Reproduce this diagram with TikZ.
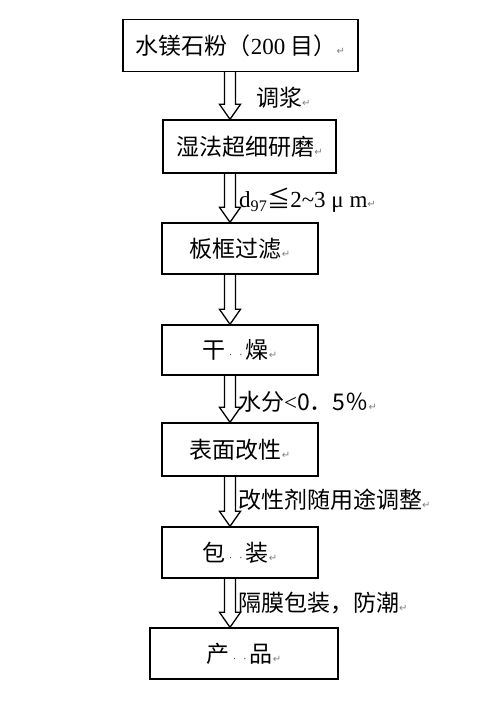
\documentclass[tikz,border=0pt]{standalone}
\usepackage{fontspec}
\setmainfont{Liberation Serif}
\newfontfamily\cjk{Noto Sans CJK SC}
\newfontfamily\markfont{DejaVu Sans}
\usetikzlibrary{calc}
% word's formatting marks, as the picture shows them
\newcommand{\pmark}{{\markfont\fontsize{10}{10}\selectfont\color{gray}↵}}
\newcommand{\smark}{{\markfont\fontsize{10}{10}\selectfont\color{darkgray}\hspace{3.5pt}·\hspace{3.5pt}}}
% hollow block arrow from one box down to the next
\newcommand{\downstep}[2]{%
  \draw[hollow] ($(#1.south -| shaft)+(-5.5,0)$) -- ($(#2.north -| shaft)+(-5.5,-15)$)
    -- ++(-5,0) -- (#2.north -| shaft) -- ($(#2.north -| shaft)+(10.5,-15)$)
    -- ++(-5,0) -- ($(#1.south -| shaft)+(5.5,0)$);}

\begin{document}
\begin{tikzpicture}[x=1pt,y=-1pt,
    box/.style={draw,line width=1.4pt,inner sep=0pt,font=\cjk\fontsize{23}{27}\selectfont},
    hollow/.style={line width=1.3pt,line join=miter},
    note/.style={anchor=west,inner sep=0pt,font=\cjk\fontsize{23}{27}\selectfont}]
  \useasboundingbox (0,0) rectangle (477,703);
  \coordinate (shaft) at (230,0);

  \node[box,minimum width=235pt,minimum height=52pt] (powder) at (240.5,45.5) {水镁石粉（{\rmfamily 200} 目）\pmark};
  \node[box,minimum width=173pt,minimum height=53pt] (grind) at (249.5,146.5) {湿法超细研磨\pmark};
  \node[box,minimum width=156pt,minimum height=51pt] (filter) at (240,248.5) {板框过滤\pmark};
  \node[box,minimum width=156pt,minimum height=50pt] (dry) at (240,350) {干\smark\smark 燥\pmark};
  \node[box,minimum width=156pt,minimum height=53pt] (coat) at (240,449.5) {表面改性\pmark};
  \node[box,minimum width=156pt,minimum height=51pt] (pack) at (240,552.5) {包\smark\smark 装\pmark};
  \node[box,minimum width=188pt,minimum height=51pt] (product) at (244,653.5) {产\smark\smark 品\pmark};

  \downstep{powder}{grind}
  \downstep{grind}{filter}
  \downstep{filter}{dry}
  \downstep{dry}{coat}
  \downstep{coat}{pack}
  \downstep{pack}{product}

  \node[note] (slurry) at (256,98) {调浆\pmark};
  \node[note,font=\rmfamily\fontsize{23}{27}\selectfont] (size) at (239,200) {d\textsubscript{97}{\cjk ≦}2\textasciitilde3 μ m\pmark};
  \node[note] (water) at (238,402) {水分{\rmfamily<}0．5％\pmark};
  \node[note] (agent) at (238,500) {改性剂随用途调整\pmark};
  \node[note] (film) at (238,603) {隔膜包装，防潮\pmark};
\end{tikzpicture}
\end{document}
